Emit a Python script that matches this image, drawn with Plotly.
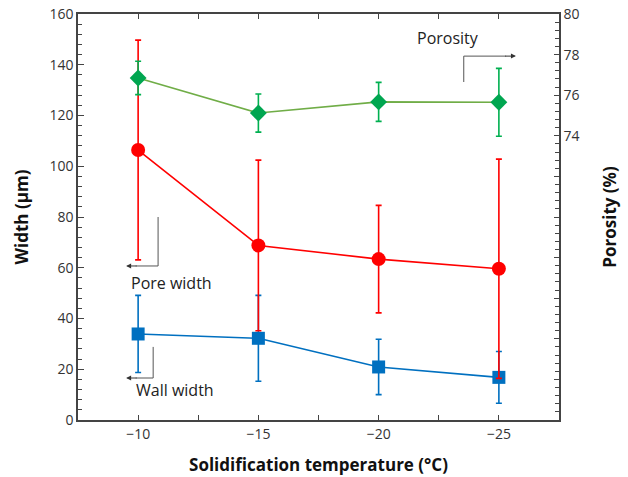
import plotly.graph_objects as go

temps = [-10, -15, -20, -25]
porosity = [76.85, 75.12, 75.67, 75.65]
porosity_err = [0.82, 0.94, 0.96, 1.67]
pore_width = [106.4, 68.8, 63.4, 59.6]
pore_err = [43.3, 33.6, 21.2, 43.2]
wall_width = [33.9, 32.2, 20.9, 16.8]
wall_err = [15.2, 16.9, 10.9, 10.2]

x_tickvals = [-10, -12.5, -15, -17.5, -20, -22.5, -25]
x_ticktext = ["\u221210", "", "\u221215", "", "\u221220", "", "\u221225"]
y2_tickvals = [60, 62, 64, 66, 68, 70, 72, 74, 76, 78, 80]
y2_ticktext = ["", "", "", "", "", "", "", "74", "76", "78", "80"]

FONT = "Open Sans"
fig = go.Figure()

fig.add_trace(go.Scatter(
    x=temps, y=porosity, yaxis="y2", mode="lines+markers",
    line=dict(color="#70ad47", width=1.6),
    marker=dict(symbol="diamond", size=13, color="#00a650"),
    error_y=dict(type="data", array=porosity_err, color="#00b050", thickness=1.6, width=3),
    showlegend=False))
fig.add_trace(go.Scatter(
    x=temps, y=wall_width, mode="lines+markers",
    line=dict(color="#0070c0", width=1.6),
    marker=dict(symbol="square", size=13, color="#0070c0"),
    error_y=dict(type="data", array=wall_err, color="#0070c0", thickness=1.6, width=3),
    showlegend=False))
fig.add_trace(go.Scatter(
    x=temps, y=pore_width, mode="lines+markers",
    line=dict(color="#ff0000", width=1.6),
    marker=dict(symbol="circle", size=14, color="#ff0000"),
    error_y=dict(type="data", array=pore_err, color="#ff0000", thickness=1.6, width=3),
    showlegend=False))

# annotation arrows (label pointers)
line_style = dict(color="#555555", width=1)
fig.add_shape(type="path", xref="x", yref="y",
              path="M -23.54 133.2 L -23.54 143.4 L -25.3 143.4", line=line_style)
fig.add_shape(type="path", xref="x", yref="y",
              path="M -10.83 80 L -10.83 60.7 L -9.9 60.7", line=line_style)
fig.add_shape(type="path", xref="x", yref="y",
              path="M -10.625 28.8 L -10.625 16.55 L -9.9 16.55", line=line_style)
for (xh, yh, xt) in [(-25.71, 143.4, -25.2), (-9.5, 60.7, -10.0), (-9.5, 16.55, -10.0)]:
    fig.add_annotation(x=xh, y=yh, ax=xt, ay=yh, xref="x", yref="y", axref="x", ayref="y",
                       text="", showarrow=True, arrowhead=2, arrowsize=1, arrowwidth=1,
                       arrowcolor="#333333")

txt_font = dict(family=FONT, size=16, color="#222222")
fig.add_annotation(x=-22.9, y=150.5, xref="x", yref="y", text="Porosity", showarrow=False, font=txt_font)
fig.add_annotation(x=-11.375, y=54, xref="x", yref="y", text="Pore width", showarrow=False, font=txt_font)
fig.add_annotation(x=-11.54, y=11.8, xref="x", yref="y", text="Wall width", showarrow=False, font=txt_font)

axis_line = dict(showline=True, linecolor="#444444", linewidth=1.5, automargin=False,
                 ticklabeloverflow="allow")
fig.update_layout(
    width=628, height=477,
    margin=dict(l=78, r=69, t=14, b=57),
    paper_bgcolor="white", plot_bgcolor="white",
    font=dict(family=FONT, size=14, color="#333333"),
    xaxis=dict(range=[-7.5, -27.5], tickmode="array", tickvals=x_tickvals, ticktext=x_ticktext,
               ticks="inside", ticklen=5, tickcolor="#444444", mirror="ticks", showgrid=False,
               zeroline=False, tickfont=dict(size=14, family=FONT, color="#333333"),
               title=dict(text="<b>Solidification temperature (°C)</b>", standoff=18,
                          font=dict(size=17, family=FONT, color="#111111")),
               **axis_line),
    yaxis=dict(range=[0, 160], dtick=20, ticks="inside", ticklen=6, tickcolor="#444444",
               minor=dict(dtick=4, ticks="inside", ticklen=4, tickcolor="#444444"),
               showgrid=False, zeroline=False,
               tickfont=dict(size=14, family=FONT, color="#333333"),
               title=dict(text="<b>Width (μm)</b>", standoff=16,
                          font=dict(size=17, family=FONT, color="#111111")),
               **axis_line),
    yaxis2=dict(range=[60, 80], overlaying="y", side="right", tickmode="array",
                tickvals=y2_tickvals, ticktext=y2_ticktext,
                ticks="inside", ticklen=5, tickcolor="#444444",
                minor=dict(dtick=0.4, tick0=60, ticks="inside", ticklen=4, tickcolor="#444444"),
                showgrid=False, zeroline=False,
                tickfont=dict(size=14, family=FONT, color="#333333"),
                title=dict(text="<b>Porosity (%)</b>", standoff=26,
                           font=dict(size=17, family=FONT, color="#111111")),
                **axis_line),
)

# remove the browser's default 8px body margin so the figure fills the window exactly
fig.write_html("out.html", config={"displayModeBar": False},
               post_script="document.body.style.margin='0';")
